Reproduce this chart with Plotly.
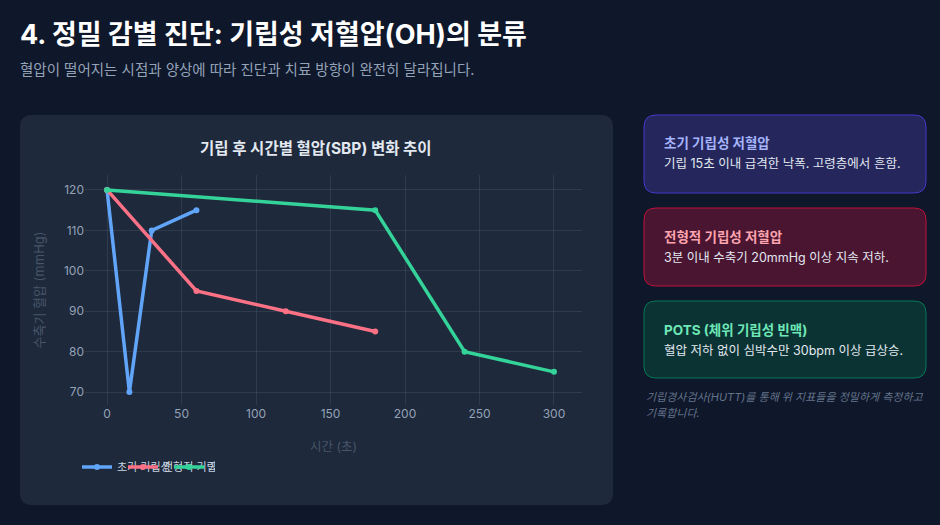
import plotly.graph_objects as go

# --- Data ---
series_names = ["초기 기립성", "전형적 기립성", "지연성 기립성"]
early_time = [0, 15, 30, 60]
early_sbp = [120, 70, 110, 115]
classic_time = [0, 60, 120, 180]
classic_sbp = [120, 95, 90, 85]
delayed_time = [0, 180, 240, 300]
delayed_sbp = [120, 115, 80, 75]
x_ticks = [0, 50, 100, 150, 200, 250, 300]
y_ticks = [70, 80, 90, 100, 110, 120]

W, H = 940, 525
FONT = "Inter, 'Noto Sans CJK KR'"

BG = "#0f172a"
CARD_BG = "#1e293b"
COLORS = ["#60a5fa", "#fb7185", "#34d399"]


def px_x(x):
    return x / W


def px_y(y):
    return 1 - y / H


def round_rect(x0, y0, x1, y1, r):
    """Rounded rectangle as an SVG path in paper coords (pixel input)."""
    def P(x, y):
        return f"{px_x(x)},{px_y(y)}"
    return (f"M {P(x0 + r, y0)} L {P(x1 - r, y0)} Q {P(x1, y0)} {P(x1, y0 + r)} "
            f"L {P(x1, y1 - r)} Q {P(x1, y1)} {P(x1 - r, y1)} "
            f"L {P(x0 + r, y1)} Q {P(x0, y1)} {P(x0, y1 - r)} "
            f"L {P(x0, y0 + r)} Q {P(x0, y0)} {P(x0 + r, y0)} Z")


fig = go.Figure()

for name, xs, ys, color in [
    (series_names[0], early_time, early_sbp, COLORS[0]),
    (series_names[1], classic_time, classic_sbp, COLORS[1]),
    (series_names[2], delayed_time, delayed_sbp, COLORS[2]),
]:
    fig.add_trace(go.Scatter(x=xs, y=ys, name=name, mode="lines+markers",
                             line=dict(color=color, width=3.5),
                             marker=dict(color=color, size=6)))

shapes = []
# chart card
shapes.append(dict(type="path", xref="paper", yref="paper",
                   path=round_rect(20, 115, 613, 505, 12),
                   fillcolor=CARD_BG, line=dict(width=0), layer="below"))

# right-side info cards
cards = [
    (115, 193, "#25275c", "#4338ca"),
    (208, 286, "#4a1530", "#be123c"),
    (301, 378, "#0b3333", "#047857"),
]
for y0, y1, fill, border in cards:
    shapes.append(dict(type="path", xref="paper", yref="paper",
                       path=round_rect(644, y0, 926, y1, 12),
                       fillcolor=fill, line=dict(color=border, width=1), layer="below"))

annotations = []


def add_text(text, x, y, size, color, xanchor="left", bold=False, italic=False, family=FONT):
    if bold:
        text = f"<b>{text}</b>"
    if italic:
        text = f"<i>{text}</i>"
    annotations.append(dict(text=text, x=px_x(x), y=px_y(y), xref="paper", yref="paper",
                            xanchor=xanchor, yanchor="middle", showarrow=False,
                            font=dict(size=size, color=color, family=family)))


add_text("4. 정밀 감별 진단: 기립성 저혈압(OH)의 분류", 18, 35, 27, "#ffffff", bold=True)
add_text("혈압이 떨어지는 시점과 양상에 따라 진단과 치료 방향이 완전히 달라집니다.", 18, 70, 14.5, "#94a3b8")

add_text("기립 후 시간별 혈압(SBP) 변화 추이", 316, 148, 15.5, "#e2e8f0", xanchor="center", bold=True)

card_text = [
    ("초기 기립성 저혈압", "기립 15초 이내 급격한 낙폭. 고령층에서 흔함.", 143, "#a5b4fc"),
    ("전형적 기립성 저혈압", "3분 이내 수축기 20mmHg 이상 지속 저하.", 237, "#fda4af"),
    ("POTS (체위 기립성 빈맥)", "혈압 저하 없이 심박수만 30bpm 이상 급상승.", 330, "#6ee7b7"),
]
for head, desc, y, color in card_text:
    add_text(head, 662, y, 13.5, color, bold=True)
    add_text(desc, 662, y + 20, 12.5, "#e2e8f0")

add_text("기립경사검사(HUTT)를 통해 위 지표들을 정밀하게 측정하고", 644, 397, 11, "#64748b", italic=True)
add_text("기록합니다.", 644, 413, 11, "#64748b", italic=True)

fig.update_layout(
    width=W, height=H,
    margin=dict(l=0, r=0, t=0, b=0),
    paper_bgcolor=BG,
    plot_bgcolor="rgba(0,0,0,0)",
    font=dict(family=FONT, color="#94a3b8", size=12),
    shapes=shapes,
    annotations=annotations,
    showlegend=True,
    legend=dict(orientation="h", x=px_x(77), y=px_y(467), xanchor="left", yanchor="middle",
                entrywidth=1, entrywidthmode="pixels",
                font=dict(size=11, color="#cbd5e1"), bgcolor="rgba(0,0,0,0)"),
    xaxis=dict(domain=[px_x(85), px_x(582)], range=[-14.8, 318.8],
               tickvals=x_ticks, gridcolor="rgba(148,163,184,0.15)", zeroline=False,
               showline=False, tickfont=dict(size=12, color="#94a3b8"),
               title=dict(text="시간 (초)", font=dict(size=12.5, color="#475569"), standoff=22)),
    yaxis=dict(domain=[px_y(405), px_y(175)], range=[66.8, 123.7],
               tickvals=y_ticks, gridcolor="rgba(148,163,184,0.15)", zeroline=False,
               showline=False, tickfont=dict(size=12, color="#94a3b8"),
               title=dict(text="수축기 혈압 (mmHg)", font=dict(size=13, color="#475569"), standoff=16)),
)

fig.write_html("out.html", config={"displayModeBar": False},
               post_script="document.body.style.margin='0';")
